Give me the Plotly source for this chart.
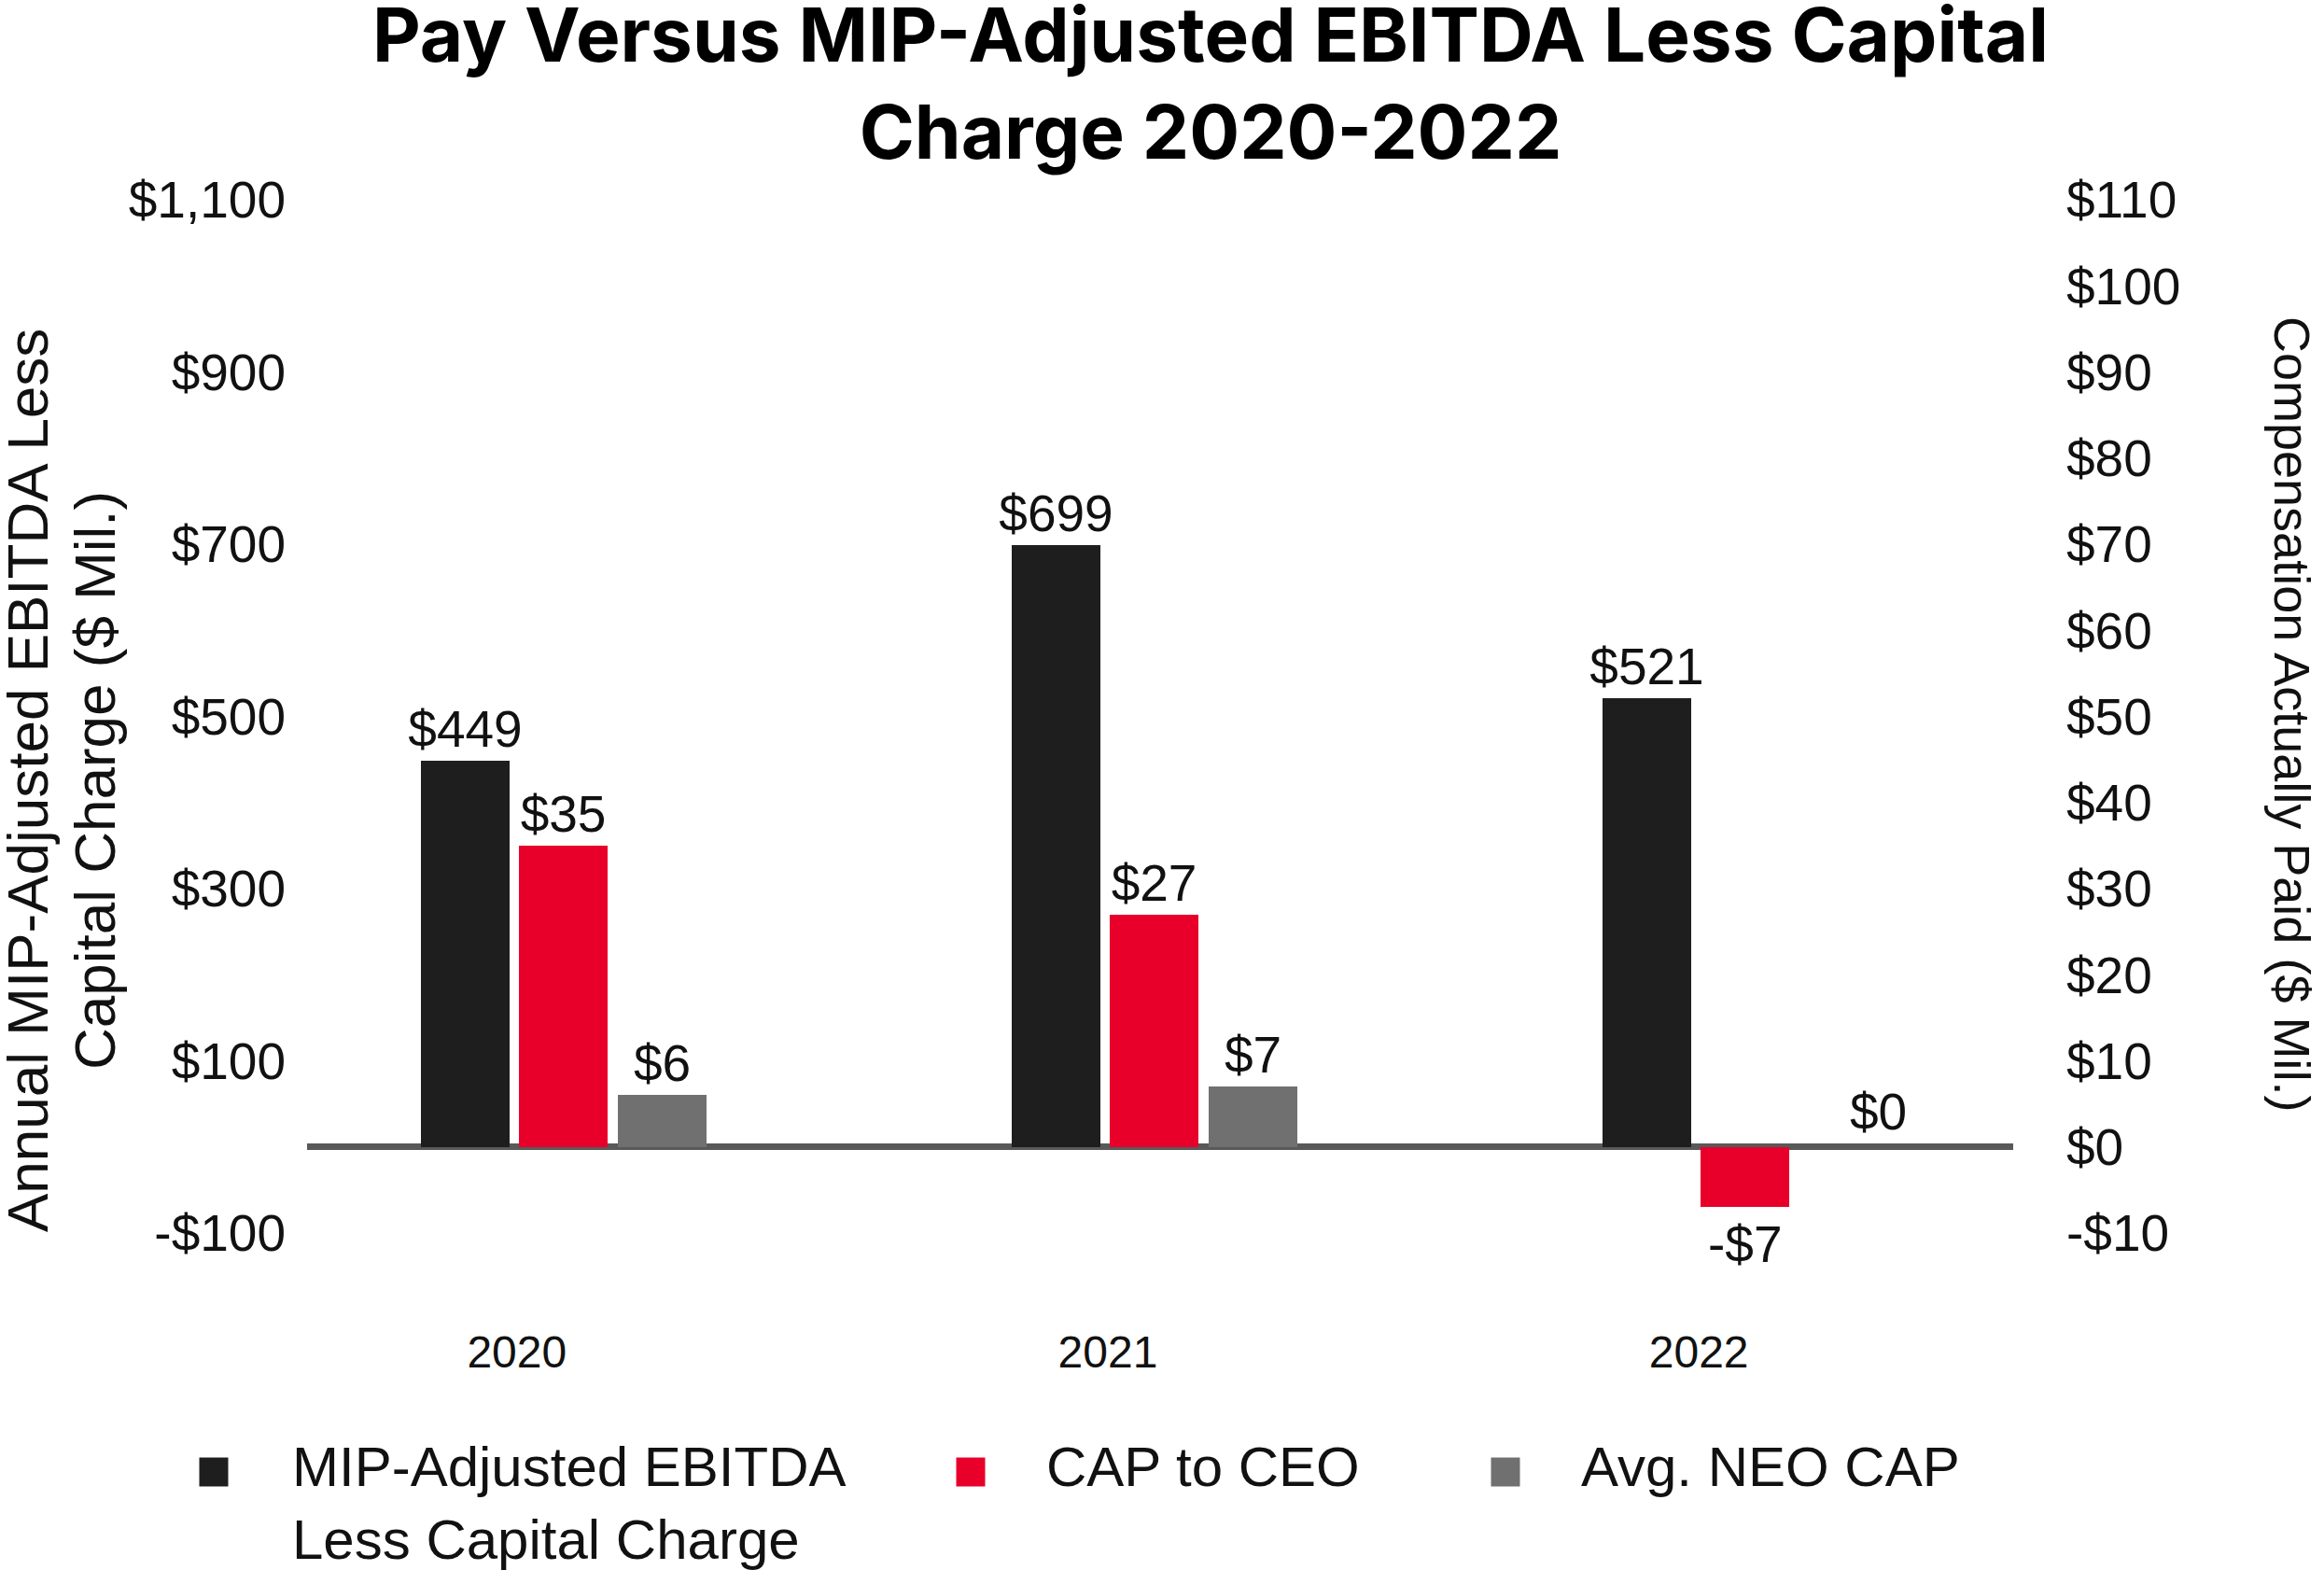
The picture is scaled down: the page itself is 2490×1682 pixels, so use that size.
import plotly.graph_objects as go

# ---------------- data ----------------
years = ["2020", "2021", "2022"]
ebitda = [449, 699, 521]          # left axis, $ Mil.
cap_ceo = [35, 27, -7]            # right axis, $ Mil.
avg_neo_cap = [6, 7, 0]           # right axis, $ Mil.

left_ticks = [-100, 100, 300, 500, 700, 900, 1100]
right_ticks = [-10, 0, 10, 20, 30, 40, 50, 60, 70, 80, 90, 100, 110]

series_names = ["MIP-Adjusted EBITDA<br>Less Capital Charge", "CAP to CEO", "Avg. NEO CAP"]
colors = ["#1e1e1e", "#e8002b", "#707070"]


def money(v):
    return f"-${abs(v):,.0f}" if v < 0 else f"${v:,.0f}"


# ---------------- layout geometry (pixels) ----------------
W, H = 2490, 1682
L, R, T, B = 329, 2157, 214, 1321
CAT_PX = 633                       # pixels per category step
FONT = "Liberation Sans, Arial, Helvetica, sans-serif"
TITLE_FONT = "Inter, Liberation Sans, Arial, sans-serif"


def px(x):
    return (x - L) / (R - L)


def py(y):
    return (B - y) / (B - T)


fig = go.Figure()

bar_w = 0.15
offsets = [-0.163, 0.003, 0.171]
data = [ebitda, cap_ceo, avg_neo_cap]
axes = ["y", "y2", "y2"]
annotations = []
for name, vals, col, off, ax in zip(series_names, data, colors, offsets, axes):
    labels = [money(v) for v in vals]
    # positive bars: label just above the bar; zero / negative: placed as annotations
    bar_labels = [t if v > 0 else "" for t, v in zip(labels, vals)]
    fig.add_trace(go.Bar(
        x=years, y=vals, name=name.replace("<br>", " "), yaxis=ax,
        marker=dict(color=col, line=dict(width=0)),
        width=bar_w, offset=off,
        text=bar_labels, textposition="outside",
        constraintext="none",
        textfont=dict(size=55, color="#111111", family=FONT),
        cliponaxis=False, showlegend=False,
    ))
    for i, (v, t) in enumerate(zip(vals, labels)):
        if v > 0:
            continue
        xshift = (off + bar_w / 2) * CAT_PX + (37 if v == 0 else 0)
        yshift = 38 if v == 0 else -40
        annotations.append(dict(
            text=t, x=i, y=v, xref="x", yref=ax, showarrow=False,
            xanchor="center", yanchor="middle",
            xshift=xshift, yshift=yshift,
            font=dict(size=55, color="#111111", family=FONT)))

fig.update_layout(
    width=W, height=H,
    margin=dict(l=L, r=W - R, t=T, b=H - B),
    paper_bgcolor="white", plot_bgcolor="white",
    font=dict(family=FONT, color="#111111"),
    title=dict(
        text="Pay Versus MIP-Adjusted EBITDA Less Capital<br>Charge 2020-2022",
        font=dict(size=80, family=TITLE_FONT, color="black", weight="bold"),
        x=1297 / W, xanchor="center", xref="container",
        y=1 - 66 / H, yanchor="middle", yref="container",
    ),
    xaxis=dict(
        type="category", range=[-0.355, 2.532],
        showgrid=False, showline=False, zeroline=False,
        ticks="", tickfont=dict(size=48, color="#111111"),
        ticklabelstandoff=95,
    ),
    yaxis=dict(
        range=[-100, 1100], tickvals=left_ticks,
        ticktext=[money(v) for v in left_ticks],
        showgrid=False, showline=False,
        zeroline=True, zerolinecolor="#595959", zerolinewidth=7,
        tickfont=dict(size=55, color="#111111"),
        ticklabelstandoff=22,
    ),
    yaxis2=dict(
        range=[-10, 110], tickvals=right_ticks,
        ticktext=[money(v) for v in right_ticks],
        overlaying="y", side="right",
        showgrid=False, showline=False, zeroline=False,
        tickfont=dict(size=55, color="#111111"),
        ticklabelstandoff=56,
    ),
    bargap=0, barmode="overlay",
)

# left axis title: two lines, set line by line to match the tight line spacing
left_title_lines = ["Annual MIP-Adjusted EBITDA Less", "Capital Charge ($ Mil.)"]
for line, cx in zip(left_title_lines, [29, 101]):
    annotations.append(dict(
        text=line, x=px(cx), y=py(836), xref="paper", yref="paper", textangle=-90,
        showarrow=False, xanchor="center", yanchor="middle",
        font=dict(size=62, color="#111111")))

annotations.append(dict(
    text="Compensation Actually Paid ($ Mil.)",
    x=px(2456), y=py(765), xref="paper", yref="paper", textangle=90,
    showarrow=False, xanchor="center", yanchor="middle",
    font=dict(size=54, color="#111111")))

# manual legend (large square swatches)
legend_swatch_x = [229, 1040, 1613]
legend_text_x = [311, 1119, 1692]
legend_y = 1577
sw = 31
shapes = []
for name, col, sx, tx in zip(series_names, colors, legend_swatch_x, legend_text_x):
    shapes.append(dict(type="rect", xref="paper", yref="paper",
                       x0=px(sx - sw / 2), x1=px(sx + sw / 2),
                       y0=py(legend_y + sw / 2), y1=py(legend_y - sw / 2),
                       fillcolor=col, line=dict(width=0)))
    annotations.append(dict(text=name, x=px(tx), y=py(1536), xref="paper", yref="paper",
                            showarrow=False, xanchor="left", yanchor="top", align="left",
                            font=dict(size=60, color="#111111")))

fig.update_layout(annotations=annotations, shapes=shapes)

fig.write_html("out.html", config={"displayModeBar": False},
               post_script="document.body.style.margin='0';")
